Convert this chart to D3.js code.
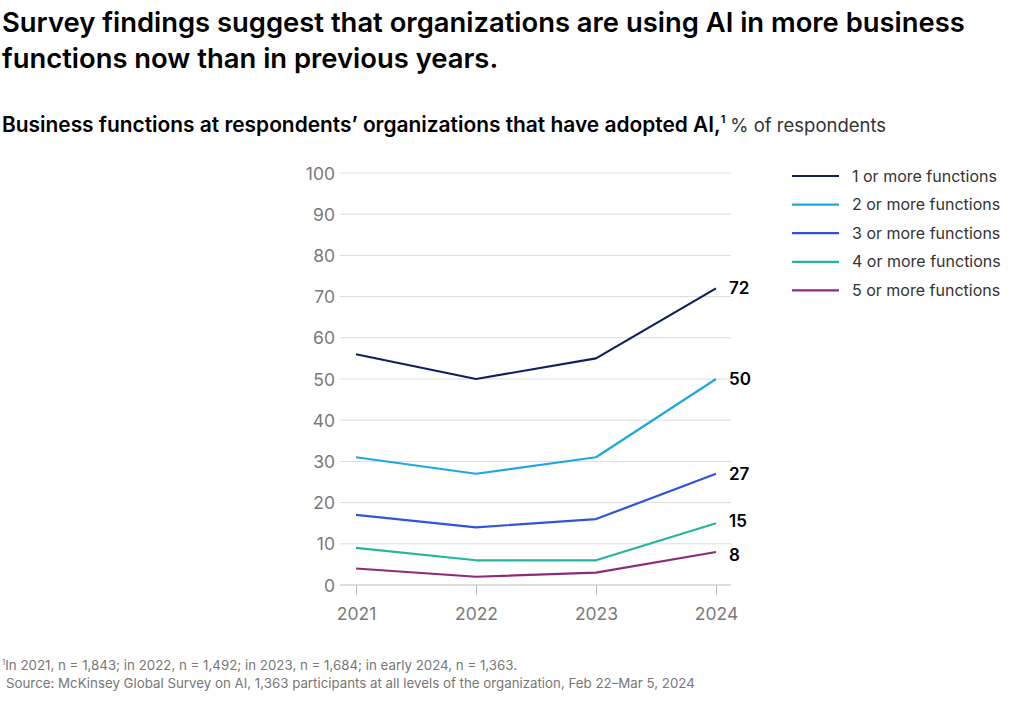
<!DOCTYPE html>
<html><head><meta charset="utf-8">
<script src="https://cdn.jsdelivr.net/npm/d3@7/dist/d3.min.js"></script>
<style>
body{margin:0;background:#fff;}
svg{display:block;}
</style></head>
<body>
<svg id="chart" width="1024" height="707"></svg>
<script>
const years = ["2021","2022","2023","2024"];
const seriesNames = ["1 or more functions","2 or more functions","3 or more functions","4 or more functions","5 or more functions"];
const s1 = [56,50,55,72];
const s2 = [31,27,31,50];
const s3 = [17,14,16,27];
const s4 = [9,6,6,15];
const s5 = [4,2,3,8];
const seriesValues = [s1,s2,s3,s4,s5];
const seriesColors = ["#0f1f5f","#1fa8e0","#2f55db","#24b4a0","#8e2a7c"];
const yTicks = [0,10,20,30,40,50,60,70,80,90,100];

const svg = d3.select("#chart");
const font = "Inter, 'Noto Sans', sans-serif";

// Title
const title = svg.append("text").attr("font-family",font).attr("font-weight",600)
  .attr("font-size",27.4).attr("fill","#000");
title.append("tspan").attr("x",2).attr("y",32).text("Survey findings suggest that organizations are using AI in more business");
title.append("tspan").attr("x",2).attr("y",68).text("functions now than in previous years.");

// Subtitle
const sub = svg.append("text").attr("x",2).attr("y",132).attr("font-family",font)
  .attr("font-size",18.5).attr("fill","#000");
sub.append("tspan").attr("font-weight",600).attr("font-size",20.9).text("Business functions at respondents’ organizations that have adopted AI,");
sub.append("tspan").attr("font-size",11).attr("dy",-9).attr("font-weight",600).text("1");
sub.append("tspan").attr("dy",9).attr("dx",5).attr("fill","#333").text("% of respondents");

// Scales
const x = d3.scalePoint().domain(years).range([356,716]);
const y = d3.scaleLinear().domain([0,100]).range([585,173]);

const g = svg.append("g");

// gridlines
g.selectAll("line.grid").data(yTicks).enter().append("line")
  .attr("x1",340).attr("x2",731)
  .attr("y1",d=>y(d)).attr("y2",d=>y(d))
  .attr("stroke",d=>d===0?"#bdbdbd":"#dcdcdc").attr("stroke-width",1);

// y axis labels
const yAxis = d3.axisLeft(y).tickValues(yTicks).tickSize(0).tickPadding(0);
const ya = g.append("g").attr("transform","translate(335,0)").call(yAxis);
ya.select(".domain").remove();
ya.selectAll("text").attr("font-family",font).attr("font-size",17.5).attr("fill","#7a7a7a").attr("dy","0.35em");

// x axis
const xAxis = d3.axisBottom(x).tickSize(10).tickPadding(13);
const xa = g.append("g").attr("transform","translate(0,585)").call(xAxis);
xa.select(".domain").remove();
xa.selectAll("line").attr("stroke","#bdbdbd");
xa.selectAll("text").attr("font-family",font).attr("font-size",17.5).attr("fill","#7a7a7a");

// lines
const line = d3.line().x((d,i)=>x(years[i])).y(d=>y(d));
g.selectAll("path.series").data(seriesValues).enter().append("path")
  .attr("d",line).attr("fill","none")
  .attr("stroke",(d,i)=>seriesColors[i]).attr("stroke-width",2.2)
  .attr("stroke-linejoin","round");

// end labels with simple dodge
const labelY = seriesValues.map(d=>y(d[3]));
const minGap = 34;
for(let i=labelY.length-1;i>0;i--){
  if(labelY[i]-labelY[i-1]<minGap){
    const mid=(labelY[i]+labelY[i-1])/2;
    labelY[i]=mid+minGap/2; labelY[i-1]=mid-minGap/2;
  }
}
g.selectAll("text.end").data(seriesValues).enter().append("text")
  .attr("x",x("2024")+13).attr("y",(d,i)=>labelY[i]).attr("dy","0.35em")
  .attr("font-family",font).attr("font-weight",600).attr("font-size",17).attr("fill","#000")
  .text(d=>d[3]);

// legend
const lg = svg.append("g");
seriesNames.forEach((n,i)=>{
  const yy = 176 + i*28.6;
  lg.append("line").attr("x1",792).attr("x2",839).attr("y1",yy).attr("y2",yy)
    .attr("stroke",seriesColors[i]).attr("stroke-width",2.2);
  lg.append("text").attr("x",852).attr("y",yy).attr("dy","0.35em")
    .attr("font-family",font).attr("font-size",16).attr("fill","#333").text(n);
});

// footnotes
const fn = svg.append("text").attr("font-family",font).attr("font-size",13.3).attr("fill","#777");
const f1 = fn.append("tspan").attr("x",2).attr("y",670);
f1.append("tspan").attr("font-size",8).attr("dy",-5).text("1");
f1.append("tspan").attr("dy",5).text("In 2021, n = 1,843; in 2022, n = 1,492; in 2023, n = 1,684; in early 2024, n = 1,363.");
fn.append("tspan").attr("x",6).attr("y",688).text("Source: McKinsey Global Survey on AI, 1,363 participants at all levels of the organization, Feb 22–Mar 5, 2024");
</script>
</body></html>
